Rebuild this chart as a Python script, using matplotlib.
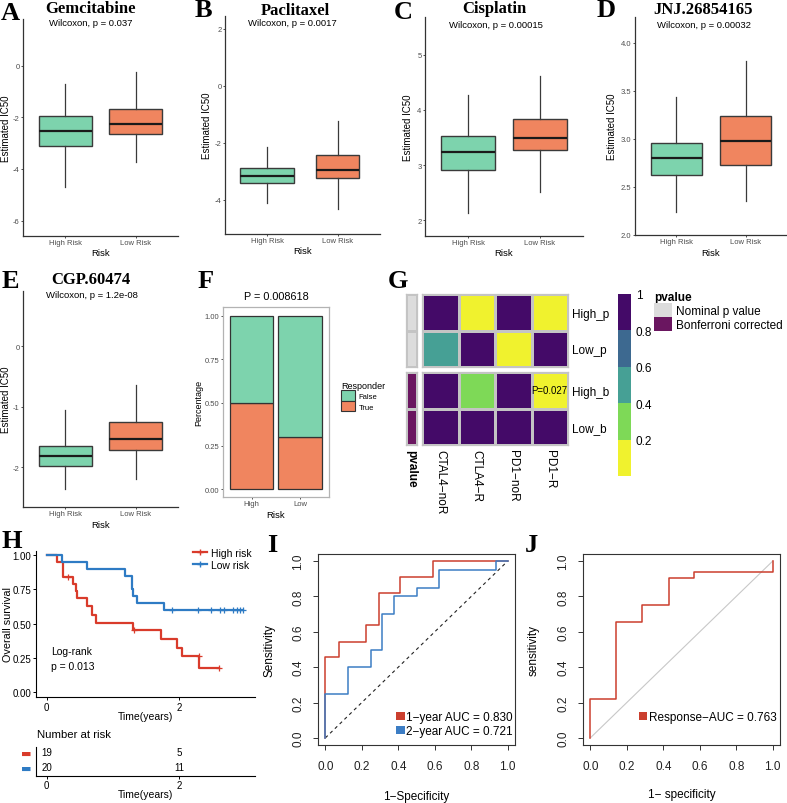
import numpy as np
import matplotlib
matplotlib.use('Agg')
import matplotlib.pyplot as plt
from matplotlib.colors import ListedColormap, BoundaryNorm
from matplotlib.patches import Patch
from matplotlib.lines import Line2D
from matplotlib.cm import ScalarMappable
from matplotlib.ticker import FormatStrFormatter

# ---------------- data ----------------
# A-E: drug sensitivity boxplots (lower whisker, Q1, median, Q3, upper whisker)
drugs = ['Gemcitabine', 'Paclitaxel', 'Cisplatin', 'JNJ.26854165', 'CGP.60474']
wilcox_p = ['0.037', '0.0017', '0.00015', '0.00032', '1.2e-08']
risk_labels = ['High Risk', 'Low Risk']
high_box = [[-4.69, -3.10, -2.52, -1.94, -0.70],
            [-4.10, -3.40, -3.16, -2.88, -2.14],
            [2.13, 2.91, 3.24, 3.53, 4.27],
            [2.24, 2.62, 2.80, 2.96, 3.44],
            [-2.36, -1.99, -1.81, -1.65, -1.06]]
low_box = [[-3.73, -2.66, -2.25, -1.67, -0.24],
           [-4.32, -3.23, -2.95, -2.42, -1.23],
           [2.51, 3.27, 3.50, 3.84, 4.62],
           [2.35, 2.73, 2.98, 3.24, 3.81],
           [-2.19, -1.71, -1.53, -1.25, -0.65]]

# F: responder proportion
resp_groups = ['High', 'Low']
resp_true = [0.50, 0.30]
resp_false = [0.50, 0.70]
resp_p = 'P = 0.008618'

# G: subclass mapping p values
sm_rows = ['High_p', 'Low_p', 'High_b', 'Low_b']
sm_cols = ['CTAL4\u2212noR', 'CTLA4\u2212R', 'PD1\u2212noR', 'PD1\u2212R']
sm_pvals = [[1.00, 0.08, 1.00, 0.007],
            [0.50, 1.00, 0.15, 1.00],
            [1.00, 0.30, 1.00, 0.027],
            [1.00, 1.00, 1.00, 1.00]]
sm_annot = ['Nominal p value', 'Bonferroni corrected']

# H: Kaplan-Meier (event times in years, survival after each step)
hr_time = [0, 0.151, 0.242, 0.403, 0.443, 0.463, 0.615, 0.680, 0.746, 1.310, 1.728, 1.965, 2.040, 2.307]
hr_surv = [1.0, 0.947, 0.842, 0.789, 0.737, 0.684, 0.632, 0.560, 0.505, 0.450, 0.385, 0.320, 0.260, 0.173]
hr_cens = [0.327, 1.325, 2.300, 2.610]
lr_time = [0, 0.227, 0.615, 1.184, 1.285, 1.310, 1.360, 1.773]
lr_surv = [1.0, 0.95, 0.90, 0.85, 0.75, 0.70, 0.65, 0.60]
lr_cens = [1.90, 2.29, 2.48, 2.62, 2.68, 2.82, 2.88, 2.92, 2.97]
risk_times = [0, 2]
hr_at_risk = [19, 5]
lr_at_risk = [20, 11]

# I: time dependent ROC
roc1_fpr = [0, 0, 0.074, 0.074, 0.222, 0.222, 0.296, 0.296, 0.407, 0.407, 0.593, 0.593, 1.0]
roc1_tpr = [0, 0.455, 0.455, 0.545, 0.545, 0.636, 0.636, 0.818, 0.818, 0.909, 0.909, 1.0, 1.0]
roc2_fpr = [0, 0, 0.125, 0.125, 0.25, 0.25, 0.3125, 0.3125, 0.375, 0.375, 0.5, 0.5, 0.625, 0.625, 0.9375, 0.9375, 1.0]
roc2_tpr = [0, 0.25, 0.25, 0.40, 0.40, 0.50, 0.50, 0.70, 0.70, 0.80, 0.80, 0.85, 0.85, 0.95, 0.95, 1.0, 1.0]
roc_labels = ['1\u2212year AUC = 0.830', '2\u2212year AUC = 0.721']

# J: response ROC
resp_fpr = [0, 0, 0.143, 0.143, 0.286, 0.286, 0.429, 0.429, 0.571, 0.571, 1.0, 1.0]
resp_tpr = [0, 0.219, 0.219, 0.656, 0.656, 0.750, 0.750, 0.906, 0.906, 0.938, 0.938, 1.0]
resp_label = 'Response\u2212AUC = 0.763'

# ---------------- style ----------------
plt.rcParams['font.family'] = ['Liberation Sans', 'DejaVu Sans']
plt.rcParams['axes.unicode_minus'] = False
SERIF = ['Liberation Serif', 'DejaVu Serif']
green, orange = '#7DD3AD', '#F0855F'
red, blue = '#D93B2B', '#2E7BC4'

W, H = 787, 804
fig = plt.figure(figsize=(W / 100, H / 100), dpi=100)


def box(l, t, r, b):
    return [l / W, 1 - b / H, (r - l) / W, (b - t) / H]


def ftext(x, y, s, **kw):
    fig.text(x / W, 1 - y / H, s, **kw)


def place_labels(ax, rect, ylab_x=None, xlab_y=None):
    # put axis titles at pixel positions (centre of the text)
    l, t, r, b = rect
    if ylab_x is not None:
        ax.yaxis.label.set_va('center')
        ax.yaxis.set_label_coords((ylab_x - l) / (r - l), 0.5)
    if xlab_y is not None:
        ax.xaxis.label.set_va('center')
        ax.xaxis.set_label_coords(0.5, (b - xlab_y) / (b - t))


# panel letters
letters = {'A': (1, 20), 'B': (195, 17), 'C': (394, 19), 'D': (597, 17), 'E': (2, 288),
           'F': (198, 288), 'G': (388, 288), 'H': (1, 548), 'I': (267, 552), 'J': (525, 552)}
for k, (x, y) in letters.items():
    ftext(x, y, k, family=SERIF, fontweight='bold', fontsize=19, va='baseline', ha='left')

# ---------------- A-E boxplots ----------------
box_axes = [(23, 20, 178, 237), (225, 17, 380, 235), (425, 18, 583, 237), (635, 18, 787, 236), (23, 292, 178, 508)]
ylims = [(-6.6, 1.8), (-5.2, 2.45), (1.71, 5.69), (2.0, 4.27), (-2.66, 0.91)]
yticks = [[-6, -4, -2, 0], [-4, -2, 0, 2], [2, 3, 4, 5], [2.0, 2.5, 3.0, 3.5, 4.0], [-2, -1, 0]]
box_widths = [[0.75, 0.75], [0.76, 0.61], [0.75, 0.75], [0.75, 0.75], [0.75, 0.75]]
title_xy = [(90, 13), (295, 15), (494, 13), (703, 14), (91, 284)]
wil_xy = [(91, 24), (292, 23), (496, 25), (704, 25), (92, 296)]
ylab_x = [6.5, 207, 408, 612, 6.5]
xlab_y = [253, 252, 254, 253, 526]

for i in range(len(drugs)):
    ax = fig.add_axes(box(*box_axes[i]))
    stats = [dict(whislo=s[0], q1=s[1], med=s[2], q3=s[3], whishi=s[4], fliers=[])
             for s in (high_box[i], low_box[i])]
    bp = ax.bxp(stats, positions=[1, 2], widths=box_widths[i], patch_artist=True,
                showcaps=False, showfliers=False,
                boxprops=dict(edgecolor='#3a3a3a', linewidth=1.0),
                medianprops=dict(color='#1a1a1a', linewidth=1.6),
                whiskerprops=dict(color='#3a3a3a', linewidth=0.9))
    for patch, c in zip(bp['boxes'], [green, orange]):
        patch.set_facecolor(c)
    ax.set_xlim(0.4, 2.6)
    ax.set_ylim(*ylims[i])
    ax.set_yticks(yticks[i])
    if i == 3:
        ax.yaxis.set_major_formatter(FormatStrFormatter('%.1f'))
    ax.set_xticks([1, 2])
    ax.set_xticklabels(risk_labels)
    for s in ['top', 'right']:
        ax.spines[s].set_visible(False)
    for s in ['left', 'bottom']:
        ax.spines[s].set_color('#333333')
        ax.spines[s].set_linewidth(0.9)
    ax.tick_params(labelsize=5.5, labelcolor='#4D4D4D', length=1.5, width=0.6, color='#333333', pad=1)
    ax.set_xlabel('Risk', fontsize=6.8)
    ax.set_ylabel('Estimated IC50', fontsize=7)
    place_labels(ax, box_axes[i], ylab_x[i], xlab_y[i])
    ftext(*title_xy[i], drugs[i], family=SERIF, fontweight='bold', fontsize=12, ha='center', va='baseline')
    ftext(*wil_xy[i], 'Wilcoxon, p = ' + wilcox_p[i], fontsize=6.8, ha='center', va='center')

# ---------------- F stacked bars ----------------
f_rect = (223, 308, 329, 498)
axf = fig.add_axes(box(*f_rect))
xf = np.arange(1, len(resp_groups) + 1)
axf.bar(xf, resp_true, width=0.9, color=orange, edgecolor='#333333', linewidth=0.9)
axf.bar(xf, resp_false, bottom=resp_true, width=0.9, color=green, edgecolor='#333333', linewidth=0.9)
axf.set_xlim(0.41, 2.6)
axf.set_ylim(-0.046, 1.052)
axf.set_yticks([0, 0.25, 0.5, 0.75, 1.0])
axf.set_yticklabels(['0.00', '0.25', '0.50', '0.75', '1.00'])
axf.set_xticks(xf)
axf.set_xticklabels(resp_groups)
for s in axf.spines.values():
    s.set_color('#B3B3B3')
    s.set_linewidth(0.9)
axf.tick_params(labelsize=5.5, labelcolor='#4D4D4D', length=1.5, width=0.6, color='#333333', pad=1)
axf.set_xlabel('Risk', fontsize=6.8)
axf.set_ylabel('Percentage', fontsize=6.5)
place_labels(axf, f_rect, 199, 515)
ftext(276, 297, resp_p, fontsize=7.8, ha='center', va='center')
fig.legend(handles=[Patch(facecolor=green, edgecolor='#333333', linewidth=0.8, label='False'),
                    Patch(facecolor=orange, edgecolor='#333333', linewidth=0.8, label='True')],
           title='Responder', loc='upper left', bbox_to_anchor=(341 / W, 1 - 382 / H),
           frameon=False, fontsize=5.5, title_fontsize=6.5, alignment='left',
           handlelength=1.8, handleheight=1.7, labelspacing=0.05, handletextpad=0.5,
           borderpad=0, borderaxespad=0)

# ---------------- G heatmap ----------------
p_colors = ['#F0F22E', '#7ED957', '#46A095', '#3D6990', '#440A68']
p_bounds = [0.02, 0.2, 0.4, 0.6, 0.8, 1.0]
cmap_p = ListedColormap(p_colors).with_extremes(over='#440A68')
norm_p = BoundaryNorm(p_bounds, cmap_p.N)
pv = np.array(sm_pvals)
annot_cmap = ListedColormap(['#DCDCDC', '#6A1660'])
grid_c = '#C4C4C4'
blocks = [(295, 368, 0), (373, 446, 1)]
for t, b, k in blocks:
    axh = fig.add_axes(box(422, t, 568, b))
    axh.pcolormesh(pv[2 * k:2 * k + 2], cmap=cmap_p, norm=norm_p, edgecolors=grid_c, linewidth=0.8)
    axh.set_xlim(0, 4)
    axh.set_ylim(2, 0)
    axh.yaxis.tick_right()
    axh.set_yticks([0.5, 1.5])
    axh.set_yticklabels(sm_rows[2 * k:2 * k + 2])
    axh.tick_params(length=0, labelsize=8.5, pad=3)
    for s in axh.spines.values():
        s.set_color(grid_c)
        s.set_linewidth(0.9)
    if k == 1:
        axh.set_xticks(np.arange(4) + 0.5)
        axh.set_xticklabels(sm_cols, rotation=270, va='top', ha='center')
        axh.text(3.5, 0.5, 'P=%s' % sm_pvals[2][3], fontsize=6.9, ha='center', va='center')
    else:
        axh.set_xticks([])
    axa = fig.add_axes(box(406, t, 417, b))
    axa.pcolormesh(np.full((2, 1), k), cmap=annot_cmap, vmin=0, vmax=1, edgecolors=grid_c, linewidth=0.8)
    axa.set_ylim(2, 0)
    axa.set_yticks([])
    for s in axa.spines.values():
        s.set_color(grid_c)
        s.set_linewidth(0.9)
    if k == 1:
        axa.set_xticks([0.5])
        axa.set_xticklabels(['pvalue'], rotation=270, va='top', ha='center', fontweight='bold')
        axa.tick_params(length=0, labelsize=8.5, pad=3)
    else:
        axa.set_xticks([])

cax = fig.add_axes(box(618, 295, 631, 477))
cb = fig.colorbar(ScalarMappable(norm=norm_p, cmap=cmap_p), cax=cax,
                  ticks=[0.2, 0.4, 0.6, 0.8, 1.0], spacing='uniform')
cb.set_ticklabels(['0.2', '0.4', '0.6', '0.8', '1'])
cb.outline.set_visible(False)
cax.minorticks_off()
cax.tick_params(length=0, labelsize=8.5, pad=3.5)
fig.legend(handles=[Patch(facecolor='#DCDCDC', label=sm_annot[0]),
                    Patch(facecolor='#6A1660', label=sm_annot[1])],
           title='pvalue', loc='upper left', bbox_to_anchor=(654 / W, 1 - 292 / H),
           frameon=False, fontsize=8.5, title_fontproperties={'weight': 'bold', 'size': 8.5},
           alignment='left', handlelength=1.5, handleheight=1.45, labelspacing=0.0,
           handletextpad=0.35, borderpad=0, borderaxespad=0)

# ---------------- H Kaplan-Meier ----------------
h_rect = (36, 552, 255, 698)
axk = fig.add_axes(box(*h_rect))
for tm, sv, cens, col in [(hr_time, hr_surv, hr_cens, red), (lr_time, lr_surv, lr_cens, blue)]:
    tm = np.array(tm)
    sv = np.array(sv)
    axk.step(np.r_[tm, max(cens)], np.r_[sv, sv[-1]], where='post', color=col, lw=1.6)
    cs = sv[np.searchsorted(tm, cens, side='right') - 1]
    axk.plot(cens, cs, '+', color=col, ms=5, mew=0.9)
axk.set_xlim(-0.16, 3.15)
axk.set_ylim(-0.036, 1.03)
axk.set_xticks([0, 2])
axk.set_yticks([0, 0.25, 0.5, 0.75, 1.0])
axk.set_yticklabels(['0.00', '0.25', '0.50', '0.75', '1.00'])
for s in ['top', 'right']:
    axk.spines[s].set_visible(False)
axk.tick_params(labelsize=7, length=2.5, width=0.7, pad=1)
axk.set_xlabel('Time(years)', fontsize=7.5)
axk.set_ylabel('Overall survival', fontsize=7.8)
place_labels(axk, h_rect, 8, 717)
axk.legend(handles=[Line2D([], [], color=red, lw=1.6, marker='+', ms=5, label='High risk'),
                    Line2D([], [], color=blue, lw=1.6, marker='+', ms=5, label='Low risk')],
           loc='upper left', bbox_to_anchor=(193 / W, 1 - 549 / H), bbox_transform=fig.transFigure,
           frameon=False, fontsize=7.5, handlelength=1.3, handletextpad=0.4, labelspacing=0.2,
           borderpad=0, borderaxespad=0)
ftext(51, 652, 'Log-rank', fontsize=7.5, va='center')
ftext(51, 667, 'p = 0.013', fontsize=7.5, va='center')

ftext(37, 735, 'Number at risk', fontsize=8.2, va='center')
r_rect = (36, 748, 255, 777)
axr = fig.add_axes(box(*r_rect))
for j, t in enumerate(risk_times):
    axr.text(t, 1, str(hr_at_risk[j]), ha='center', va='center', fontsize=7)
    axr.text(t, 0, str(lr_at_risk[j]), ha='center', va='center', fontsize=7)
axr.set_xlim(-0.16, 3.15)
axr.set_ylim(-0.6, 1.33)
axr.set_xticks([0, 2])
axr.set_yticks([1, 0])
axr.set_yticklabels(['\u25AC', '\u25AC'], family=['DejaVu Sans'], fontsize=8)
for lbl, col in zip(axr.get_yticklabels(), [red, blue]):
    lbl.set_color(col)
for s in ['top', 'right']:
    axr.spines[s].set_visible(False)
axr.tick_params(axis='x', labelsize=7, length=2.5, width=0.7, pad=0.5)
axr.tick_params(axis='y', length=0, pad=3)
axr.set_xlabel('Time(years)', fontsize=7.5)
place_labels(axr, r_rect, None, 795)


# ---------------- I / J ROC ----------------
def roc_axes(rect):
    a = fig.add_axes(box(*rect))
    a.set_xlim(-0.04, 1.04)
    a.set_ylim(-0.04, 1.04)
    ticks = [0, 0.2, 0.4, 0.6, 0.8, 1.0]
    a.set_xticks(ticks)
    a.set_yticks(ticks)
    a.xaxis.set_major_formatter(FormatStrFormatter('%.1f'))
    a.yaxis.set_major_formatter(FormatStrFormatter('%.1f'))
    a.tick_params(labelsize=8.5, length=3.5, width=0.7, pad=7, color='#333333', labelcolor='#222222')
    a.tick_params(axis='y', pad=6.5)
    for lbl in a.get_yticklabels():
        lbl.set_rotation(90)
        lbl.set_va('center')
    for s in a.spines.values():
        s.set_color('#333333')
        s.set_linewidth(0.8)
    return a


i_rect = (318, 555, 515, 746)
axi = roc_axes(i_rect)
axi.plot([0, 1], [0, 1], ls=(0, (3, 3)), color='#222222', lw=0.8)
axi.plot(roc1_fpr, roc1_tpr, color='#CB3F2E', lw=1.1)
axi.plot(roc2_fpr, roc2_tpr, color='#3C7DC4', lw=1.1)
axi.set_xlabel('1\u2212Specificity', fontsize=8.5)
axi.set_ylabel('Sensitivity', fontsize=8.5)
place_labels(axi, i_rect, 269, 797)
axi.legend(handles=[Patch(facecolor='#CB3F2E', label=roc_labels[0]),
                    Patch(facecolor='#3C7DC4', label=roc_labels[1])],
           loc='lower right', bbox_to_anchor=(513 / W, 1 - 738 / H), bbox_transform=fig.transFigure,
           frameon=False, fontsize=8.5, handlelength=0.75, handleheight=0.7, handletextpad=0.15,
           labelspacing=0.15, borderpad=0, borderaxespad=0)

j_rect = (583, 555, 780, 746)
axj = roc_axes(j_rect)
axj.plot([0, 1], [0, 1], color='#C8C8C8', lw=0.8)
axj.plot(resp_fpr, resp_tpr, color='#CB3F2E', lw=1.1)
axj.set_xlabel('1\u2212 specificity', fontsize=8.5)
axj.set_ylabel('sensitivity', fontsize=8.5)
place_labels(axj, j_rect, 534, 795)
axj.legend(handles=[Patch(facecolor='#CB3F2E', label=resp_label)],
           loc='lower right', bbox_to_anchor=(777 / W, 1 - 724 / H), bbox_transform=fig.transFigure,
           frameon=False, fontsize=8.5, handlelength=0.75, handleheight=0.7, handletextpad=0.15,
           borderpad=0, borderaxespad=0)

fig.savefig('out.png', dpi=100)
